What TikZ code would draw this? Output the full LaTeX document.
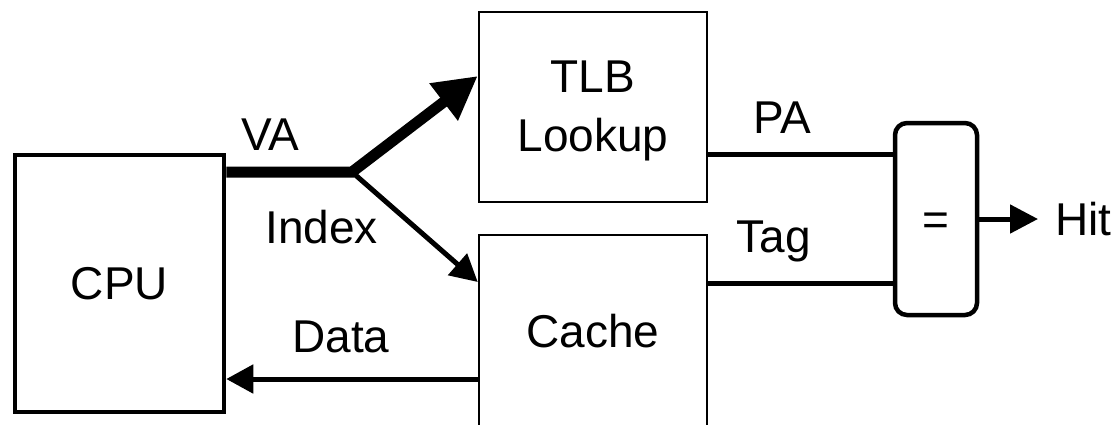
\documentclass[tikz,border=0pt]{standalone}
\usepackage{fontspec}
\setmainfont{Liberation Sans}
\usetikzlibrary{arrows.meta}
\begin{document}
\begin{tikzpicture}[x=1pt,y=-1pt,
  every node/.style={font=\fontsize{46}{59}\selectfont},
  unit/.style={draw, line width=2.5pt, minimum width=228pt, inner sep=0pt},
  lbl/.style={inner sep=0pt},
  conn/.style={line width=5pt},
  tipS/.style={-{Triangle[length=27pt,width=28pt]}},
  tipL/.style={-{Triangle[length=43pt,width=44pt]}}
]
\clip (0,0) rectangle (1119,424);

% blocks
\node[draw, line width=4.5pt, minimum width=209pt, minimum height=257pt, inner sep=0pt] (cpu) at (119.5,283.5) {CPU};
\node[unit, minimum height=190pt, align=center] (tlb) at (593,107)
  {\raisebox{-4pt}[\height][\depth]{TLB}\\\raisebox{-4pt}[\height][\depth]{Lookup}};
\node[unit, minimum height=192pt] (cache) at (593,331) {Cache};
\node[draw, rounded corners=12pt, line width=4.5pt, minimum width=82pt, minimum height=192pt, inner sep=0pt] (eq) at (936,219)
  {\raisebox{-5pt}[\height][\depth]{=}};

% labels
\node[lbl, anchor=base] (va) at (270,150) {VA};
\node[lbl, anchor=base] (idx) at (321.5,243) {Index};
\node[lbl, anchor=base] (data) at (341,352) {Data};
\node[lbl, anchor=base] (palbl) at (782,133) {PA};
\node[lbl, anchor=base] (taglbl) at (774,252) {Tag};
\node[lbl, anchor=base west] (hit) at (1055,235) {Hit};

% virtual address splits into TLB input and cache index
\coordinate (j) at (352,172);
\draw[line width=11pt, tipL] (cpu.east |- j) -- (j) -- ([yshift=31pt]tlb.west);
\draw[conn, tipS] (j) -- ([yshift=49pt]cache.west);

% data back to the CPU
\draw[conn, tipS] ([yshift=-48pt]cache.west) coordinate (d) -- (cpu.east |- d);

% physical address and tag into the comparator
\draw[conn] ([yshift=-47pt]tlb.east) coordinate (p) -- (eq.west |- p);
\draw[conn] ([yshift=48pt]cache.east) coordinate (t) -- (eq.west |- t);

% hit output
\draw[conn, -{Triangle[length=28pt,width=28pt]}] (eq.east) -- ([xshift=-17pt]hit.west |- eq.east);
\end{tikzpicture}
\end{document}
